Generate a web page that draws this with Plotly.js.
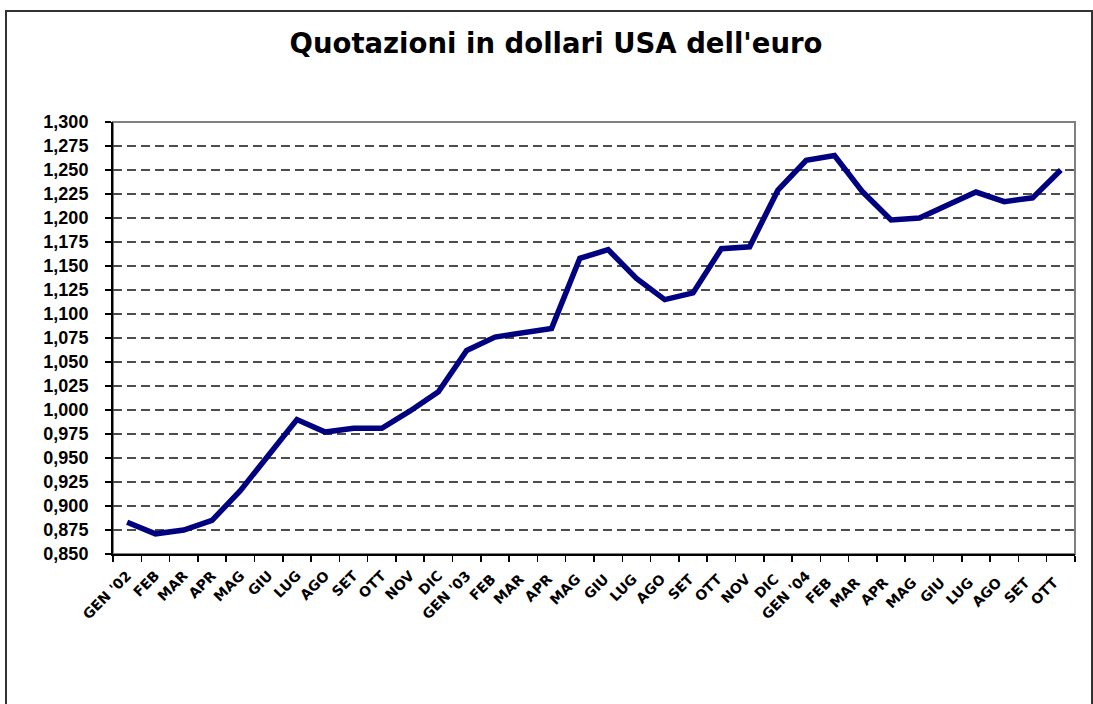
<!DOCTYPE html>
<html>
<head>
<meta charset="utf-8">
<script src="https://cdn.plot.ly/plotly-3.0.1.min.js"></script>
<style>
  html, body { margin: 0; padding: 0; background: #ffffff; }
  #chart { width: 1093px; height: 704px; }
</style>
</head>
<body>
<div id="chart"></div>
<script>
// Monthly quotations of the euro in US dollars, Jan 2002 - Oct 2004
const months = [
  "GEN '02","FEB","MAR","APR","MAG","GIU","LUG","AGO","SET","OTT","NOV","DIC",
  "GEN '03","FEB ","MAR ","APR ","MAG ","GIU ","LUG ","AGO ","SET ","OTT ","NOV ","DIC ",
  "GEN '04","FEB  ","MAR  ","APR  ","MAG  ","GIU  ","LUG  ","AGO  ","SET  ","OTT  "
];
const values = [
  0.883, 0.871, 0.875, 0.885, 0.916, 0.953, 0.990, 0.977, 0.981, 0.981, 0.999, 1.019,
  1.062, 1.076, 1.081, 1.085, 1.158, 1.167, 1.137, 1.115, 1.122, 1.168, 1.170, 1.229,
  1.260, 1.265, 1.227, 1.198, 1.200, 1.214, 1.227, 1.217, 1.221, 1.250
];
const yTicks = [0.850,0.875,0.900,0.925,0.950,0.975,1.000,1.025,1.050,1.075,1.100,1.125,1.150,1.175,1.200,1.225,1.250,1.275,1.300];

const trace = {
  type: 'scatter',
  mode: 'lines',
  x: months,
  y: values,
  line: { color: '#000080', width: 5.5 },
  hoverinfo: 'x+y'
};

const layout = {
  width: 1093,
  height: 704,
  paper_bgcolor: '#ffffff',
  plot_bgcolor: '#ffffff',
  separators: ',.',
  showlegend: false,
  margin: { l: 113, r: 18, t: 122, b: 150 },
  title: {
    text: "Quotazioni in dollari USA dell'euro",
    font: { family: 'DejaVu Sans', size: 27.5, color: '#000000', weight: 'bold' },
    x: 556/1093, xanchor: 'center', xref: 'container',
    y: 1 - 43/704, yanchor: 'middle', yref: 'container'
  },
  xaxis: {
    type: 'category',
    range: [-0.5, 33.5],
    tickson: 'boundaries',
    ticks: 'outside',
    ticklen: 6,
    tickwidth: 1.5,
    tickcolor: '#000000',
    tickangle: -45,
    ticklabelstandoff: 6,
    tickfont: { family: 'DejaVu Sans', size: 14, color: '#000000', weight: 'bold' },
    showgrid: false,
    showline: true,
    linecolor: '#000000',
    linewidth: 2,
    zeroline: false,
    automargin: false,
    fixedrange: true
  },
  yaxis: {
    range: [0.85, 1.30],
    tickmode: 'array',
    tickvals: yTicks,
    tickformat: '.3f',
    ticks: 'outside',
    ticklen: 6,
    tickwidth: 1.5,
    tickcolor: '#000000',
    ticklabelstandoff: 13,
    tickfont: { family: 'Liberation Sans', size: 18, color: '#000000', weight: 'bold' },
    showgrid: true,
    gridcolor: '#4d4d4d',
    gridwidth: 1.2,
    griddash: '9px,5px',
    showline: true,
    linecolor: '#000000',
    linewidth: 2,
    zeroline: false,
    automargin: false,
    fixedrange: true
  },
  shapes: [
    { type: 'rect', xref: 'paper', yref: 'paper', x0: 0, x1: 1, y0: 0, y1: 1,
      line: { color: '#808080', width: 2 }, layer: 'below' },
    { type: 'rect', xref: 'paper', yref: 'paper',
      x0: (6 - 113) / 962, x1: (1092 - 113) / 962,
      y0: (554 - 780) / 432, y1: (554 - 11) / 432,
      line: { color: '#333333', width: 2 }, fillcolor: 'rgba(0,0,0,0)', layer: 'below' }
  ]
};

Plotly.newPlot('chart', [trace], layout, { displayModeBar: false, staticPlot: true });
</script>
</body>
</html>
